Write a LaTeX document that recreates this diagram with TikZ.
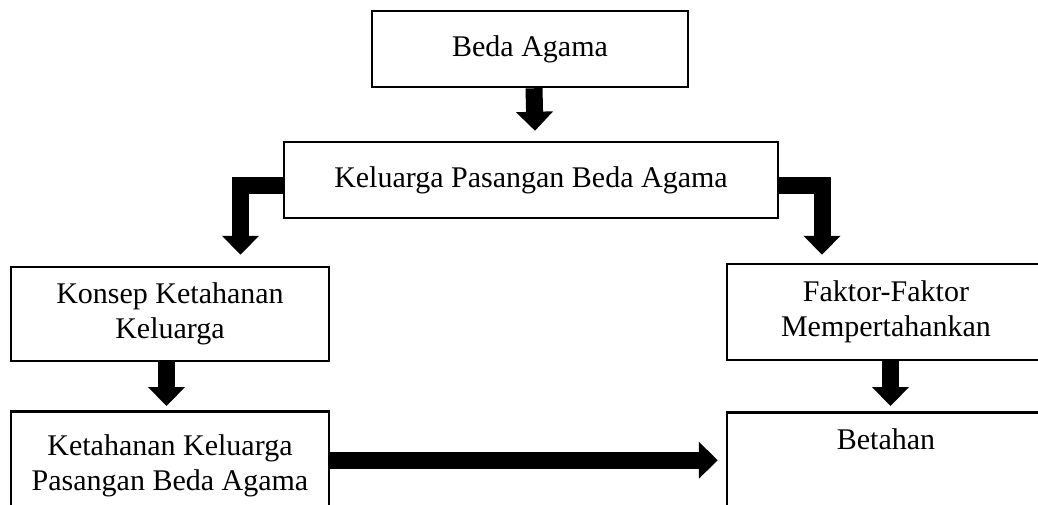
\documentclass[tikz,border=0pt]{standalone}
\usepackage{fontspec}
\setmainfont{Liberation Serif}
\usetikzlibrary{arrows.meta}

\tikzset{
  box/.style={draw,line width=1.25pt,inner sep=0pt,align=center,
    font=\fontsize{15}{17.5}\selectfont},
  blockarrow/.style={line width=8.5pt,line join=miter,
    -{Triangle[length=9.5pt,width=18pt]}}
}

\begin{document}
\begin{tikzpicture}[x=0.5pt,y=-0.5pt]
\path[use as bounding box,clip] (0,0) rectangle (1038,504);

% Top boxes
\node[box,minimum width=158pt,minimum height=38pt] (beda) at (530,49) {Beda Agama};
\node[box,minimum width=247pt,minimum height=38pt] (kpba) at (531,180) {Keluarga Pasangan Beda Agama};

% Middle boxes
\node[box,minimum width=159pt,minimum height=47pt] (konsep) at (170,314) {Konsep Ketahanan\\Keluarga};
\node[box,minimum width=159pt,minimum height=48pt] (faktor) at (886,312) {Faktor-Faktor\\Mempertahankan};

% Bottom boxes
\node[box,anchor=north,minimum width=159pt,minimum height=55pt] (ketahanan) at (170,410) {Ketahanan Keluarga\\Pasangan Beda Agama};
\node[box,anchor=north,minimum width=159pt,text height=18.5pt,text depth=36pt] (betahan) at (886,411) {Betahan};

% Arrows
\draw[blockarrow] ([xshift=2pt]beda.south) -- ([xshift=2pt,yshift=5pt]kpba.north);
\draw[blockarrow] ([yshift=-2.5pt]kpba.west) -| ([xshift=35.25pt,yshift=5.5pt]konsep.north);
\draw[blockarrow] ([yshift=-2.5pt]kpba.east) -| ([xshift=-32pt,yshift=4pt]faktor.north);
\draw[blockarrow] ([xshift=-1.75pt]konsep.south) -- ([xshift=-1.75pt,yshift=2pt]ketahanan.north);
\draw[blockarrow] ([xshift=2.25pt]faktor.south) -- ([xshift=2.25pt,yshift=2.5pt]betahan.north);
\draw[blockarrow] ([yshift=3pt]ketahanan.east) -- ([xshift=-4pt,yshift=3.25pt]betahan.west);
\end{tikzpicture}
\end{document}
